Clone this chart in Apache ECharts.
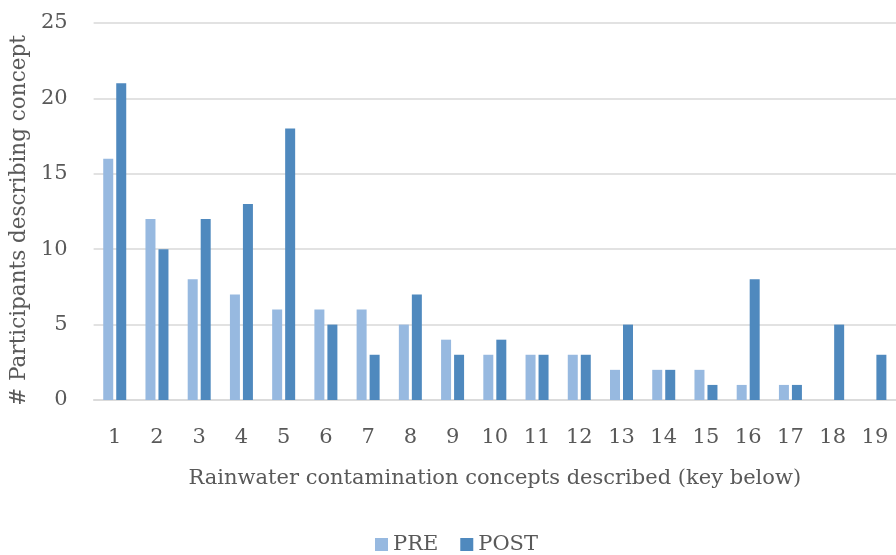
<!DOCTYPE html>
<html><head><meta charset="utf-8">
<script src="https://cdn.jsdelivr.net/npm/echarts@6/dist/echarts.min.js"></script>
<style>html,body{margin:0;padding:0;background:#fff}#c{width:896px;height:555px}</style>
</head><body><div id="c"></div>
<script>
const categories = ['1','2','3','4','5','6','7','8','9','10','11','12','13','14','15','16','17','18','19'];
const preValues  = [16,12,8,7,6,6,6,5,4,3,3,3,2,2,2,1,1,0,0];
const postValues = [21,10,12,13,18,5,3,7,3,4,3,3,5,2,1,8,1,5,3];
const yTicks = [0,5,10,15,20,25];
const FONT = 'DejaVu Serif';
const TXT = '#595959';
const chart = echarts.init(document.getElementById('c'));
chart.setOption({
  animation:false,
  textStyle:{fontFamily:FONT,color:TXT},
  grid:{left:90,right:-9,top:23,bottom:155,containLabel:false},
  legend:{bottom:0,left:375,padding:0,itemWidth:13,itemHeight:13,itemGap:22,icon:'rect',
    textStyle:{fontFamily:FONT,fontSize:21,color:TXT},data:['PRE','POST']},
  xAxis:{type:'category',data:categories,
    name:'Rainwater contamination concepts described (key below)',nameLocation:'middle',nameGap:68,
    nameTextStyle:{fontFamily:FONT,fontSize:21,color:TXT},
    axisLine:{show:true,lineStyle:{color:'#D9D9D9',width:1.5}},axisTick:{show:false},
    axisLabel:{fontFamily:FONT,fontSize:21,color:TXT,margin:27,interval:0}},
  yAxis:{type:'value',min:0,max:25,interval:5,
    name:'# Participants describing concept',nameLocation:'middle',nameGap:55,
    nameTextStyle:{fontFamily:FONT,fontSize:21.5,color:TXT,padding:[0,18,0,0]},
    axisLine:{show:false},axisTick:{show:false},
    axisLabel:{fontFamily:FONT,fontSize:21,color:TXT,margin:26,
      formatter:v=>yTicks.includes(v)?String(v):''},
    splitLine:{lineStyle:{color:'#D9D9D9',width:1.5}}},
  series:[
    {name:'PRE',type:'bar',data:preValues,barWidth:10,barGap:'30%',
      itemStyle:{color:'#97B9E0'}},
    {name:'POST',type:'bar',data:postValues,barWidth:10,barGap:'30%',
      itemStyle:{color:'#4F89BE'}}
  ]
});
</script></body></html>
